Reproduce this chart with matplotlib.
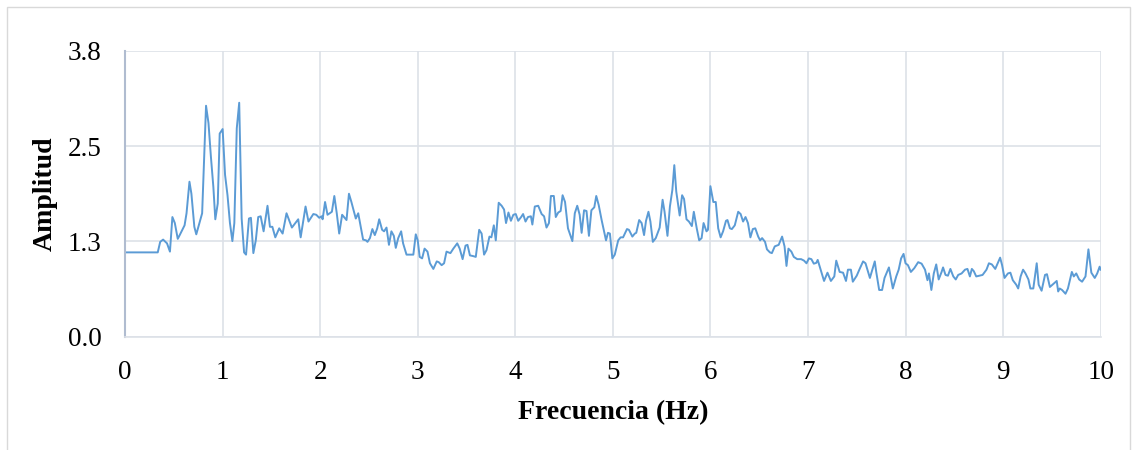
import numpy as np
import matplotlib
matplotlib.use("Agg")
import matplotlib.pyplot as plt
from matplotlib.patches import Rectangle

# frequency (Hz) and amplitude
freq = [0.0, 0.335, 0.36, 0.39, 0.43, 0.46, 0.485, 0.51, 0.54, 0.56, 0.61, 0.63, 0.66, 0.68,
        0.71, 0.73, 0.79, 0.83, 0.855, 0.88, 0.905, 0.925, 0.95, 0.97, 1.00, 1.025, 1.05,
        1.075, 1.10, 1.12, 1.145, 1.17, 1.195, 1.22, 1.24, 1.27, 1.29, 1.315, 1.34, 1.365,
        1.39, 1.42, 1.46, 1.485, 1.51, 1.54, 1.58, 1.615, 1.655, 1.71, 1.775, 1.80, 1.85,
        1.88, 1.93, 1.96, 1.99, 2.015, 2.025, 2.05, 2.075, 2.12, 2.145, 2.17, 2.195, 2.225,
        2.27, 2.295, 2.32, 2.365, 2.39, 2.44, 2.47, 2.485, 2.51, 2.535, 2.56, 2.585, 2.605,
        2.635, 2.655, 2.68, 2.705, 2.73, 2.755, 2.775, 2.80, 2.83, 2.85, 2.885, 2.955, 2.98,
        3.00, 3.02, 3.045, 3.07, 3.10, 3.125, 3.16, 3.195, 3.215, 3.245, 3.27, 3.295, 3.335,
        3.365, 3.405, 3.43, 3.46, 3.49, 3.51, 3.535, 3.57, 3.595, 3.63, 3.655, 3.68, 3.705,
        3.735, 3.755, 3.78, 3.80, 3.83, 3.86, 3.885, 3.905, 3.93, 3.955, 3.98, 4.005, 4.03,
        4.06, 4.08, 4.105, 4.13, 4.16, 4.175, 4.20, 4.235, 4.27, 4.295, 4.32, 4.345, 4.365,
        4.395, 4.415, 4.44, 4.465, 4.485, 4.51, 4.54, 4.585, 4.61, 4.635, 4.66, 4.68, 4.705,
        4.73, 4.755, 4.78, 4.81, 4.83, 4.855, 4.885, 4.91, 4.93, 4.95, 4.97, 4.995, 5.02,
        5.055, 5.08, 5.105, 5.145, 5.165, 5.20, 5.225, 5.24, 5.27, 5.295, 5.32, 5.34, 5.365,
        5.385, 5.41, 5.44, 5.48, 5.51, 5.53, 5.56, 5.585, 5.61, 5.63, 5.65, 5.685, 5.71,
        5.73, 5.755, 5.78, 5.81, 5.83, 5.86, 5.885, 5.91, 5.93, 5.96, 5.975, 6.00, 6.03,
        6.055, 6.08, 6.105, 6.13, 6.16, 6.175, 6.20, 6.22, 6.25, 6.285, 6.31, 6.335, 6.36,
        6.385, 6.41, 6.435, 6.46, 6.49, 6.51, 6.53, 6.56, 6.58, 6.61, 6.63, 6.66, 6.70,
        6.735, 6.76, 6.78, 6.80, 6.83, 6.855, 6.89, 6.93, 6.96, 6.985, 7.01, 7.035, 7.06,
        7.085, 7.10, 7.13, 7.165, 7.20, 7.235, 7.27, 7.29, 7.325, 7.36, 7.39, 7.41, 7.44,
        7.46, 7.50, 7.53, 7.565, 7.59, 7.635, 7.685, 7.70, 7.73, 7.76, 7.785, 7.83, 7.87,
        7.905, 7.93, 7.955, 7.98, 8.00, 8.025, 8.055, 8.09, 8.13, 8.165, 8.20, 8.225, 8.24,
        8.265, 8.29, 8.315, 8.34, 8.37, 8.385, 8.41, 8.435, 8.46, 8.49, 8.515, 8.54, 8.575,
        8.61, 8.635, 8.66, 8.68, 8.70, 8.725, 8.76, 8.79, 8.83, 8.855, 8.885, 8.92, 8.945,
        8.97, 8.99, 9.015, 9.05, 9.075, 9.10, 9.135, 9.155, 9.18, 9.205, 9.23, 9.26, 9.28,
        9.31, 9.345, 9.365, 9.395, 9.43, 9.45, 9.48, 9.515, 9.55, 9.565, 9.58, 9.605, 9.64,
        9.665, 9.705, 9.725, 9.75, 9.78, 9.81, 9.845, 9.875, 9.905, 9.94, 9.965, 9.99, 10.0]

amp = [1.12, 1.12, 1.26, 1.29, 1.24, 1.13, 1.59, 1.51, 1.30, 1.35, 1.48, 1.64, 2.06, 1.90,
       1.46, 1.36, 1.64, 3.07, 2.84, 2.39, 1.99, 1.56, 1.77, 2.70, 2.76, 2.15, 1.88,
       1.51, 1.27, 1.51, 2.77, 3.11, 1.57, 1.12, 1.09, 1.57, 1.58, 1.11, 1.28, 1.59,
       1.60, 1.40, 1.74, 1.46, 1.46, 1.32, 1.44, 1.37, 1.64, 1.45, 1.56, 1.32, 1.73,
       1.53, 1.63, 1.62, 1.58, 1.60, 1.56, 1.79, 1.62, 1.66, 1.87, 1.64, 1.37, 1.62,
       1.55, 1.90, 1.79, 1.57, 1.64, 1.29, 1.28, 1.26, 1.31, 1.43, 1.35, 1.44, 1.56,
       1.42, 1.40, 1.45, 1.22, 1.40, 1.34, 1.18, 1.31, 1.40, 1.24, 1.09, 1.09, 1.36,
       1.28, 1.06, 1.04, 1.17, 1.13, 0.975, 0.90, 1.00, 0.99, 0.95, 0.975, 1.13, 1.11,
       1.17, 1.24, 1.17, 1.03, 1.21, 1.22, 1.08, 1.07, 1.06, 1.42, 1.37, 1.09, 1.15,
       1.33, 1.32, 1.48, 1.28, 1.78, 1.74, 1.69, 1.51, 1.65, 1.54, 1.62, 1.63, 1.54,
       1.59, 1.63, 1.53, 1.59, 1.60, 1.49, 1.73, 1.74, 1.63, 1.60, 1.45, 1.51, 1.87,
       1.87, 1.59, 1.65, 1.67, 1.88, 1.79, 1.44, 1.27, 1.64, 1.74, 1.62, 1.38, 1.68,
       1.67, 1.34, 1.68, 1.72, 1.87, 1.75, 1.55, 1.40, 1.28, 1.38, 1.37, 1.04, 1.09,
       1.28, 1.32, 1.32, 1.43, 1.42, 1.33, 1.37, 1.38, 1.55, 1.51, 1.35, 1.54, 1.66,
       1.53, 1.26, 1.31, 1.45, 1.82, 1.66, 1.34, 1.73, 1.95, 2.28, 1.93, 1.61, 1.88,
       1.83, 1.56, 1.53, 1.47, 1.66, 1.44, 1.28, 1.31, 1.51, 1.40, 1.42, 2.00, 1.79,
       1.79, 1.44, 1.32, 1.40, 1.54, 1.55, 1.44, 1.43, 1.48, 1.66, 1.63, 1.53, 1.59,
       1.51, 1.32, 1.43, 1.44, 1.33, 1.28, 1.31, 1.26, 1.16, 1.12, 1.11, 1.20, 1.22,
       1.33, 1.20, 0.94, 1.17, 1.13, 1.06, 1.03, 1.03, 1.01, 0.975, 1.04, 1.03, 0.97,
       0.98, 1.02, 0.89, 0.74, 0.85, 0.74, 0.80, 1.01, 0.86, 0.85, 0.74, 0.89, 0.89,
       0.73, 0.81, 0.90, 1.00, 0.975, 0.78, 1.00, 0.86, 0.62, 0.62, 0.78, 0.92, 0.64,
       0.80, 0.89, 1.04, 1.10, 0.975, 0.95, 0.86, 0.91, 0.99, 0.97, 0.89, 0.75, 0.84,
       0.62, 0.84, 0.96, 0.76, 0.86, 0.92, 0.82, 0.81, 0.90, 0.80, 0.76, 0.82, 0.84,
       0.89, 0.90, 0.80, 0.90, 0.87, 0.80, 0.81, 0.82, 0.89, 0.975, 0.96, 0.90, 0.975,
       1.05, 0.95, 0.78, 0.84, 0.85, 0.75, 0.69, 0.64, 0.80, 0.89, 0.84, 0.76, 0.64,
       0.64, 0.975, 0.69, 0.61, 0.82, 0.83, 0.66, 0.70, 0.74, 0.60, 0.64, 0.62, 0.57,
       0.64, 0.86, 0.80, 0.84, 0.76, 0.73, 0.80, 1.16, 0.85, 0.78, 0.84, 0.93, 0.89]

y_ticks = np.linspace(0, 3.8, 4)
x_ticks = list(range(0, 11))

plt.rcParams['font.family'] = ['Liberation Serif', 'DejaVu Serif']

fig = plt.figure(figsize=(11.37, 4.5), dpi=100)
ax = fig.add_axes([0.110, 0.252, 0.858, 0.635])

ax.plot(freq, amp, color='#5B9BD5', linewidth=1.4)

ax.set_xlim(0, 10)
ax.set_ylim(0, 3.8)
ax.set_xticks(x_ticks)
ax.set_yticks(y_ticks)
ax.set_yticklabels([f"{v:.1f}" for v in y_ticks])
ax.tick_params(length=0, labelsize=19.5)
ax.tick_params(axis='x', pad=17)
ax.tick_params(axis='y', pad=17)

ax.grid(True, color='#DDE1E8', linewidth=1.2)
ax.set_axisbelow(True)
for side in ['top', 'right']:
    ax.spines[side].set_visible(False)
ax.spines['bottom'].set_color('#DDE1E8')
ax.spines['bottom'].set_linewidth(1.2)
ax.spines['left'].set_color('#B0BCD0')
ax.spines['left'].set_linewidth(1.5)

ax.set_xlabel('Frecuencia (Hz)', fontsize=20, fontweight='bold', labelpad=11)
ax.set_ylabel('Amplitud', fontsize=20, fontweight='bold', labelpad=7)

# chart area border (bottom edge falls outside the image, as in the reference)
fig.patches.append(Rectangle((7 / 1137, -10 / 450), 1123 / 1137, 453 / 450,
                             transform=fig.transFigure, fill=False,
                             edgecolor='#D9D9D9', linewidth=1))

fig.savefig('out.png', dpi=100)
